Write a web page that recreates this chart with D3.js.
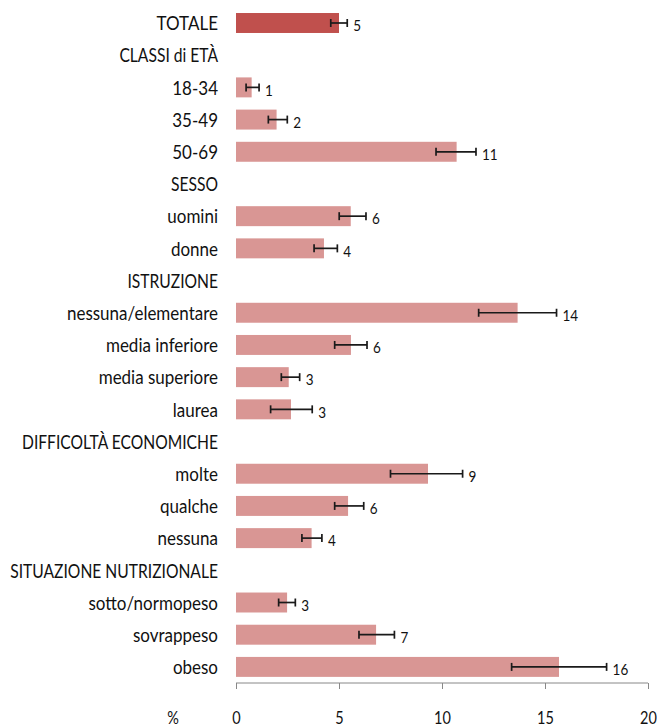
<!DOCTYPE html>
<html>
<head>
<meta charset="utf-8">
<script src="https://cdn.jsdelivr.net/npm/d3@7"></script>
<style>
  body { margin: 0; background: #fff; }
  text { font-family: Lato, "Open Sans", sans-serif; fill: #111; }
</style>
</head>
<body>
<div id="chart"></div>
<script>
// categories (headers have no value)
var categories = ["TOTALE", "CLASSI di ETÀ", "18-34", "35-49", "50-69", "SESSO", "uomini", "donne",
    "ISTRUZIONE", "nessuna/elementare", "media inferiore", "media superiore", "laurea",
    "DIFFICOLTÀ ECONOMICHE", "molte", "qualche", "nessuna",
    "SITUAZIONE NUTRIZIONALE", "sotto/normopeso", "sovrappeso", "obeso"];
var values = [5.0, null, 0.76, 1.97, 10.71, null, 5.57, 4.27, null, 13.67, 5.58, 2.56, 2.67,
    null, 9.32, 5.44, 3.67, null, 2.48, 6.8, 15.68];
var lower = [4.6, null, 0.49, 1.57, 9.71, null, 5.01, 3.79, null, 11.78, 4.79, 2.2, 1.68,
    null, 7.5, 4.79, 3.2, null, 2.07, 5.97, 13.38];
var upper = [5.4, null, 1.12, 2.49, 11.65, null, 6.31, 4.92, null, 15.56, 6.36, 3.09, 3.7,
    null, 11.0, 6.2, 4.17, null, 2.88, 7.69, 17.99];
var valueLabels = ["5", "", "1", "2", "11", "", "6", "4", "", "14", "6", "3", "3",
    "", "9", "6", "4", "", "3", "7", "16"];
var xTicks = [0, 5, 10, 15, 20];

var width = 657, height = 726;
var stretchY = 1.18; // text in the original is a bit taller than wide

var svg = d3.select("#chart").append("svg")
    .attr("width", width)
    .attr("height", height);

var x = d3.scaleLinear().domain([0, 20]).range([236, 648]);
var y = d3.scaleBand().domain(categories).range([6.9, 683])
    .paddingInner(0.38).paddingOuter(0.19);

var rows = categories.map((c, i) => ({
    cat: c, value: values[i], lo: lower[i], hi: upper[i], label: valueLabels[i],
    total: i === 0, header: values[i] === null
}));
var dataRows = rows.filter(d => !d.header);

function place(px, py, sx) {
    return "translate(" + px + "," + py + ") scale(" + (sx || 1) + "," + stretchY + ")";
}

// category labels (group headers a bit narrower, like the original)
svg.append("g").selectAll("text")
    .data(rows)
    .enter().append("text")
    .attr("transform", d => place(218, y(d.cat) + y.bandwidth() / 2, d.header ? 0.92 : 1))
    .attr("dy", "0.36em")
    .attr("text-anchor", "end")
    .style("font-size", "17px")
    .text(d => d.cat);

// bars
svg.append("g").selectAll("rect")
    .data(dataRows)
    .enter().append("rect")
    .attr("x", x(0))
    .attr("y", d => y(d.cat))
    .attr("width", d => x(d.value) - x(0))
    .attr("height", y.bandwidth())
    .attr("fill", d => d.total ? "#C0504D" : "#D99694");

// error bars
var err = svg.append("g").attr("stroke", "#1a1a1a").attr("stroke-width", 1.7);
dataRows.forEach(d => {
    var cy = y(d.cat) + y.bandwidth() / 2;
    err.append("line").attr("x1", x(d.lo)).attr("x2", x(d.hi)).attr("y1", cy).attr("y2", cy);
    err.append("line").attr("x1", x(d.lo)).attr("x2", x(d.lo)).attr("y1", cy - 4).attr("y2", cy + 4);
    err.append("line").attr("x1", x(d.hi)).attr("x2", x(d.hi)).attr("y1", cy - 4).attr("y2", cy + 4);
});

// value labels
svg.append("g").selectAll("text")
    .data(dataRows)
    .enter().append("text")
    .attr("transform", d => place(x(d.hi) + 6, y(d.cat) + y.bandwidth() / 2 + 2.5))
    .attr("dy", "0.36em")
    .style("font-size", "13.5px")
    .text(d => d.label);

// x axis
var axis = svg.append("g").attr("transform", "translate(0,683)")
    .call(d3.axisBottom(x).tickValues(xTicks).tickSize(6));
axis.attr("font-family", null).attr("font-size", null);
axis.select(".domain").attr("stroke", "#888").attr("d", "M236,0H648");
axis.selectAll(".tick line").attr("stroke", "#888");
axis.selectAll(".tick text")
    .attr("y", null)
    .attr("dy", null)
    .attr("transform", place(0, 41))
    .attr("fill", "#111")
    .style("font-size", "14.5px");

svg.append("text")
    .attr("transform", place(173, 724))
    .attr("text-anchor", "middle")
    .style("font-size", "14.5px")
    .text("%");
</script>
</body>
</html>
